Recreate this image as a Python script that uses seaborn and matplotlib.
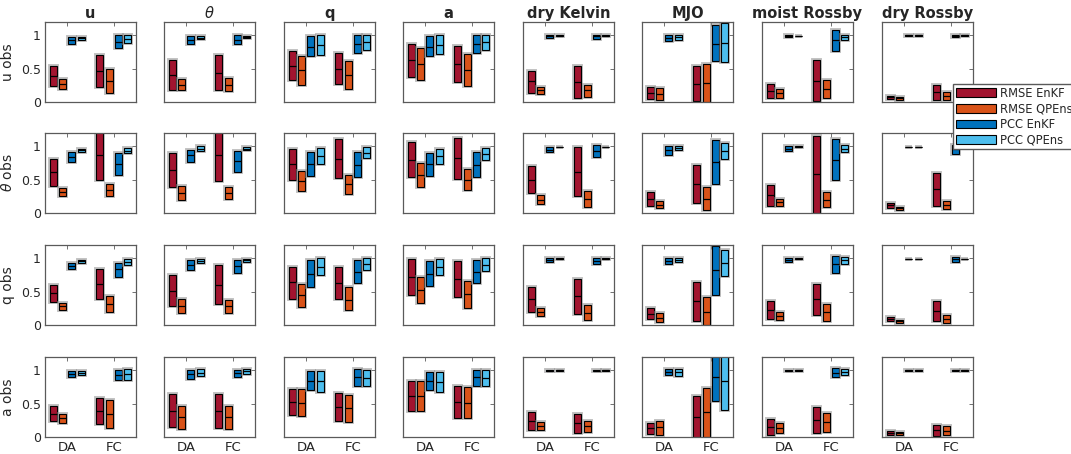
import numpy as np
import pandas as pd
import matplotlib
matplotlib.use("Agg")
import matplotlib.pyplot as plt
import matplotlib.patheffects as pe
from matplotlib.patches import Patch
import seaborn as sns

variables = ["u", r"$\theta$", "q", "a", "dry Kelvin", "MJO", "moist Rossby", "dry Rossby"]
obs_labels = ["u obs", r"$\theta$ obs", "q obs", "a obs"]
phases = ["DA", "FC"]
series = ["RMSE EnKF", "RMSE QPEns", "PCC EnKF", "PCC QPEns"]
colors = ["#A2142F", "#D95319", "#0072BD", "#4DBEEE"]

# (low, median, high) per variable column: four DA series followed by four FC series
u_obs = [
    [(0.24, 0.39, 0.54), (0.20, 0.265, 0.34), (0.865, 0.925, 0.975), (0.935, 0.955, 0.975),
     (0.225, 0.465, 0.70), (0.14, 0.32, 0.49), (0.81, 0.90, 1.0), (0.885, 0.95, 1.0)],
    [(0.185, 0.41, 0.635), (0.185, 0.26, 0.35), (0.865, 0.935, 0.985), (0.945, 0.965, 0.985),
     (0.185, 0.44, 0.70), (0.165, 0.26, 0.36), (0.865, 0.935, 1.0), (0.96, 0.975, 0.99)],
    [(0.325, 0.545, 0.76), (0.26, 0.475, 0.69), (0.685, 0.83, 0.99), (0.70, 0.86, 1.0),
     (0.265, 0.50, 0.74), (0.19, 0.405, 0.615), (0.74, 0.875, 1.0), (0.785, 0.90, 1.0)],
    [(0.38, 0.625, 0.875), (0.325, 0.575, 0.815), (0.685, 0.83, 0.985), (0.715, 0.85, 1.0),
     (0.305, 0.575, 0.835), (0.24, 0.485, 0.725), (0.735, 0.875, 1.0), (0.785, 0.90, 1.0)],
    [(0.135, 0.31, 0.465), (0.125, 0.175, 0.22), (0.965, 0.985, 1.0), (0.99, 0.995, 1.0),
     (0.06, 0.30, 0.535), (0.075, 0.175, 0.26), (0.95, 0.985, 1.0), (0.99, 0.995, 1.0)],
    [(0.045, 0.135, 0.23), (0.035, 0.115, 0.205), (0.92, 0.965, 1.0), (0.935, 0.975, 1.0),
     (0.01, 0.275, 0.54), (0.0, 0.29, 0.57), (0.61, 0.875, 1.16), (0.595, 0.89, 1.19)],
    [(0.055, 0.17, 0.275), (0.065, 0.135, 0.20), (0.98, 0.99, 1.0), (0.985, 0.99, 0.995),
     (0.01, 0.315, 0.625), (0.06, 0.20, 0.335), (0.765, 0.925, 1.085), (0.925, 0.975, 1.0)],
    [(0.045, 0.07, 0.095), (0.035, 0.055, 0.075), (0.997, 1.0, 1.0), (0.997, 1.0, 1.0),
     (0.025, 0.145, 0.255), (0.035, 0.09, 0.15), (0.975, 0.995, 1.0), (0.997, 1.0, 1.0)],
]

theta_obs = [
    [(0.41, 0.61, 0.81), (0.25, 0.31, 0.375), (0.76, 0.845, 0.915), (0.915, 0.94, 0.96),
     (0.50, 0.865, 1.25), (0.25, 0.34, 0.44), (0.57, 0.735, 0.90), (0.90, 0.935, 0.97)],
    [(0.385, 0.645, 0.90), (0.19, 0.30, 0.40), (0.76, 0.87, 0.94), (0.93, 0.965, 1.0),
     (0.485, 0.865, 1.25), (0.21, 0.30, 0.39), (0.615, 0.775, 0.935), (0.94, 0.965, 0.99)],
    [(0.50, 0.735, 0.965), (0.335, 0.475, 0.625), (0.56, 0.735, 0.92), (0.74, 0.86, 0.975),
     (0.525, 0.81, 1.11), (0.29, 0.435, 0.565), (0.54, 0.725, 0.91), (0.825, 0.905, 0.99)],
    [(0.54, 0.80, 1.065), (0.39, 0.575, 0.75), (0.56, 0.735, 0.90), (0.735, 0.85, 0.955),
     (0.515, 0.82, 1.125), (0.34, 0.50, 0.66), (0.535, 0.725, 0.91), (0.79, 0.88, 0.975)],
    [(0.30, 0.50, 0.70), (0.135, 0.20, 0.275), (0.915, 0.95, 0.99), (0.985, 0.99, 0.995),
     (0.25, 0.615, 0.985), (0.095, 0.21, 0.335), (0.84, 0.935, 1.02), (0.985, 0.99, 0.995)],
    [(0.10, 0.21, 0.315), (0.075, 0.125, 0.175), (0.865, 0.94, 1.01), (0.95, 0.975, 1.0),
     (0.15, 0.435, 0.72), (0.05, 0.21, 0.385), (0.44, 0.765, 1.095), (0.815, 0.935, 1.05)],
    [(0.11, 0.265, 0.42), (0.10, 0.16, 0.21), (0.925, 0.965, 1.0), (0.99, 0.995, 1.0),
     (0.0, 0.59, 1.16), (0.09, 0.20, 0.31), (0.49, 0.79, 1.115), (0.915, 0.965, 1.015)],
    [(0.075, 0.115, 0.15), (0.05, 0.07, 0.085), (0.993, 0.995, 0.997), (0.993, 0.995, 0.997),
     (0.10, 0.36, 0.605), (0.06, 0.115, 0.175), (0.89, 0.955, 1.015), (0.993, 0.995, 0.997)],
]

q_obs = [
    [(0.35, 0.475, 0.605), (0.225, 0.285, 0.335), (0.835, 0.885, 0.93), (0.93, 0.955, 0.975),
     (0.395, 0.615, 0.84), (0.19, 0.315, 0.435), (0.725, 0.84, 0.935), (0.895, 0.945, 0.985)],
    [(0.29, 0.515, 0.75), (0.185, 0.285, 0.385), (0.825, 0.895, 0.97), (0.935, 0.965, 0.995),
     (0.315, 0.605, 0.895), (0.185, 0.285, 0.375), (0.775, 0.88, 0.98), (0.95, 0.975, 0.995)],
    [(0.395, 0.64, 0.875), (0.27, 0.445, 0.615), (0.57, 0.77, 0.975), (0.745, 0.875, 1.0),
     (0.385, 0.63, 0.875), (0.22, 0.38, 0.565), (0.635, 0.80, 0.975), (0.82, 0.915, 1.01)],
    [(0.445, 0.72, 0.99), (0.33, 0.52, 0.725), (0.58, 0.77, 0.96), (0.745, 0.87, 0.995),
     (0.42, 0.69, 0.96), (0.26, 0.46, 0.66), (0.625, 0.795, 0.97), (0.805, 0.905, 1.0)],
    [(0.195, 0.385, 0.57), (0.135, 0.195, 0.255), (0.94, 0.97, 1.0), (0.99, 0.995, 1.0),
     (0.17, 0.435, 0.69), (0.07, 0.185, 0.30), (0.92, 0.965, 1.0), (0.99, 0.995, 1.0)],
    [(0.085, 0.17, 0.25), (0.04, 0.105, 0.175), (0.91, 0.96, 1.0), (0.94, 0.975, 1.01),
     (0.06, 0.355, 0.64), (0.0, 0.20, 0.42), (0.45, 0.82, 1.18), (0.73, 0.925, 1.12)],
    [(0.085, 0.22, 0.355), (0.07, 0.14, 0.195), (0.95, 0.98, 1.0), (0.99, 0.995, 1.0),
     (0.15, 0.385, 0.61), (0.065, 0.19, 0.315), (0.775, 0.91, 1.04), (0.92, 0.97, 1.02)],
    [(0.06, 0.09, 0.12), (0.035, 0.055, 0.07), (0.993, 0.995, 0.997), (0.993, 0.995, 0.997),
     (0.06, 0.215, 0.365), (0.035, 0.09, 0.145), (0.95, 0.985, 1.015), (0.993, 0.995, 0.997)],
]

a_obs = [
    [(0.235, 0.35, 0.46), (0.21, 0.28, 0.35), (0.90, 0.945, 0.985), (0.935, 0.96, 0.985),
     (0.19, 0.39, 0.585), (0.135, 0.345, 0.56), (0.855, 0.935, 1.0), (0.86, 0.94, 1.02)],
    [(0.15, 0.395, 0.645), (0.125, 0.295, 0.46), (0.87, 0.94, 1.0), (0.915, 0.965, 1.015),
     (0.14, 0.395, 0.645), (0.125, 0.295, 0.46), (0.90, 0.955, 1.0), (0.95, 0.985, 1.015)],
    [(0.325, 0.525, 0.72), (0.31, 0.51, 0.72), (0.70, 0.845, 0.995), (0.675, 0.835, 0.995),
     (0.24, 0.45, 0.655), (0.23, 0.435, 0.635), (0.765, 0.90, 1.02), (0.765, 0.89, 1.005)],
    [(0.39, 0.61, 0.845), (0.39, 0.61, 0.845), (0.70, 0.84, 0.975), (0.68, 0.83, 0.975),
     (0.285, 0.525, 0.76), (0.285, 0.515, 0.745), (0.765, 0.895, 1.005), (0.765, 0.885, 1.005)],
    [(0.10, 0.24, 0.375), (0.11, 0.165, 0.225), (0.985, 0.995, 1.005), (0.997, 1.0, 1.0),
     (0.055, 0.205, 0.35), (0.075, 0.16, 0.245), (0.985, 0.995, 1.005), (0.997, 1.0, 1.0)],
    [(0.05, 0.13, 0.21), (0.035, 0.15, 0.245), (0.935, 0.98, 1.02), (0.91, 0.98, 1.025),
     (0.0, 0.305, 0.61), (0.0, 0.37, 0.735), (0.545, 0.895, 1.25), (0.41, 0.835, 1.25)],
    [(0.035, 0.155, 0.265), (0.06, 0.135, 0.21), (0.985, 0.995, 1.005), (0.997, 1.0, 1.0),
     (0.06, 0.26, 0.45), (0.075, 0.225, 0.355), (0.895, 0.96, 1.03), (0.935, 0.975, 1.02)],
    [(0.035, 0.065, 0.09), (0.025, 0.055, 0.075), (0.997, 1.0, 1.0), (0.997, 1.0, 1.0),
     (0.01, 0.10, 0.18), (0.025, 0.095, 0.165), (0.997, 1.0, 1.0), (0.997, 1.0, 1.0)],
]

obs_rows = [u_obs, theta_obs, q_obs, a_obs]

# Long-form table: each (low, median, high) becomes [low, low, median, high, high]
# so the box quartiles land exactly on low/high and the median line on median.
records = []
for r, row in enumerate(obs_rows):
    for c, cell in enumerate(row):
        for k, (lo, med, hi) in enumerate(cell):
            phase = phases[k // 4]
            ser = series[k % 4]
            for v in (lo, lo, med, hi, hi):
                records.append((r, c, phase, ser, v))
df = pd.DataFrame(records, columns=["row", "col", "phase", "series", "value"])

sns.set_style("white")
plt.rcParams["font.family"] = ["DejaVu Sans"]
plt.rcParams["mathtext.fontset"] = "dejavusans"

W, H = 1071, 454
fig = plt.figure(figsize=(W / 100, H / 100), dpi=100)

lefts = [45, 164, 284, 403, 523, 642, 762, 882]
tops = [22, 133, 245, 357]
aw, ah = 91, 80
frame_col = "#5a5a5a"
halo = [pe.Stroke(linewidth=2.8, foreground=(0.55, 0.55, 0.55, 0.55)), pe.Normal()]

for r in range(4):
    for c in range(8):
        ax = fig.add_axes([lefts[c] / W, 1 - (tops[r] + ah) / H, aw / W, ah / H])
        sub = df[(df["row"] == r) & (df["col"] == c)]
        sns.boxplot(data=sub, x="phase", y="value", hue="series",
                    order=phases, hue_order=series, palette=colors,
                    saturation=1, width=0.8, gap=0.25, whis=0,
                    showcaps=False, showfliers=False, linecolor="black",
                    linewidth=0.8, legend=False, ax=ax,
                    medianprops=dict(color="black", linewidth=0.9))
        for p in ax.patches:
            p.set_path_effects(halo)
        ax.set_xlim(-0.48, 1.48)
        ax.set_ylim(0, 1.2)
        ax.set_yticks([0, 0.5, 1])
        ax.set_xlabel("")
        ax.set_ylabel("")
        ax.tick_params(direction="in", length=3, width=0.6, color=frame_col,
                       top=True, right=True, labelsize=9, labelcolor="#262626", pad=3)
        for s in ax.spines.values():
            s.set_color(frame_col)
            s.set_linewidth(0.9)
        if c == 0:
            ax.set_yticklabels(["0", "0.5", "1"])
            ax.set_ylabel(obs_labels[r], fontsize=10, color="#262626", labelpad=4)
        else:
            ax.set_yticklabels([])
        if r == 3:
            ax.set_xticklabels(phases, fontsize=9.5)
        else:
            ax.set_xticklabels([])
        if r == 0:
            ax.set_title(variables[c], fontsize=10.5, fontweight="bold", pad=3)

handles = [Patch(facecolor=col, edgecolor="black", linewidth=0.8) for col in colors]
fig.legend(handles=handles, labels=series, loc="upper left",
           bbox_to_anchor=(953 / W, 1 - 84 / H), fontsize=8.3,
           frameon=True, fancybox=False, edgecolor=frame_col, framealpha=1,
           handlelength=3.5, handleheight=0.8, handletextpad=0.3,
           labelspacing=0.22, borderpad=0.25, borderaxespad=0)

fig.savefig("out.png", dpi=100)
